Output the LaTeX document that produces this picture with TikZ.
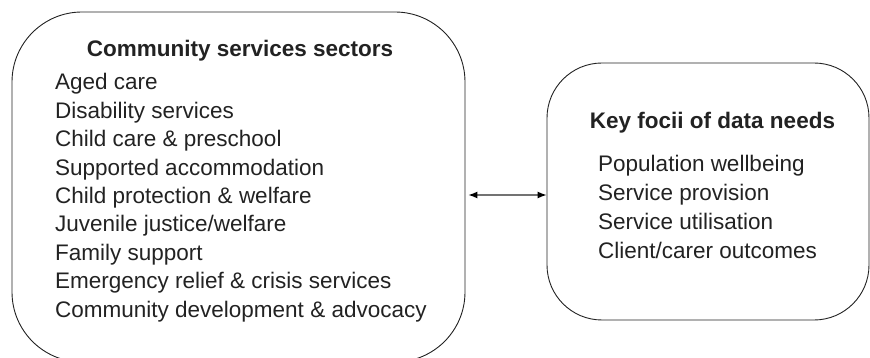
\documentclass[tikz,border=0pt]{standalone}
\usepackage{fontspec}
\setmainfont{Liberation Sans}
\usetikzlibrary{arrows.meta}
\definecolor{ink}{HTML}{222222}
\tikzset{
  every picture/.style={x=1pt, y=-1pt},
  panel/.style={draw=ink, line width=0.9pt, inner sep=0pt},
  head/.style={font=\fontsize{22.5}{28.5}\bfseries\selectfont, text=ink, inner sep=0pt},
  item/.style={font=\fontsize{22.5}{28.5}\selectfont, text=ink, inner sep=0pt, anchor=base west}
}

\begin{document}
\begin{tikzpicture}
      \useasboundingbox (0,0) rectangle (870,358);
      % the two boxes
      \node[panel, rounded corners=70pt, minimum width=453pt, minimum height=350pt] (sectors) at (238.5,187) {};
      \node[panel, rounded corners=55pt, minimum width=322pt, minimum height=257pt] (focii) at (708,191.5) {};
      % headings
      \node[head, anchor=base] (sectorshead) at (240,57) {Community services sectors};
      \node[head, anchor=base] (fociihead) at (712.5,129) {Key focii of data needs};
      % lists
      \foreach \txt [count=\i from 0] in {Aged care, Disability services, Child care \& preschool,
          Supported accommodation, Child protection \& welfare, Juvenile justice/welfare,
          Family support, Emergency relief \& crisis services, Community development \& advocacy}
        \node[item] (sector\i) at (55,90+28.4*\i) {\txt};
      \foreach \txt [count=\i from 0] in {Population wellbeing, Service provision,
          Service utilisation, Client/carer outcomes}
        \node[item] (need\i) at (598,172+28.7*\i) {\txt};
      % link
      \coordinate (link) at (0,195);
      \draw[black!55, line width=1.2pt, {Latex[length=9pt,width=7pt,black]}-{Latex[length=9pt,width=7pt,black]}]
        ([xshift=3pt]sectors.east |- link) -- (focii.west |- link);
\end{tikzpicture}
\end{document}
